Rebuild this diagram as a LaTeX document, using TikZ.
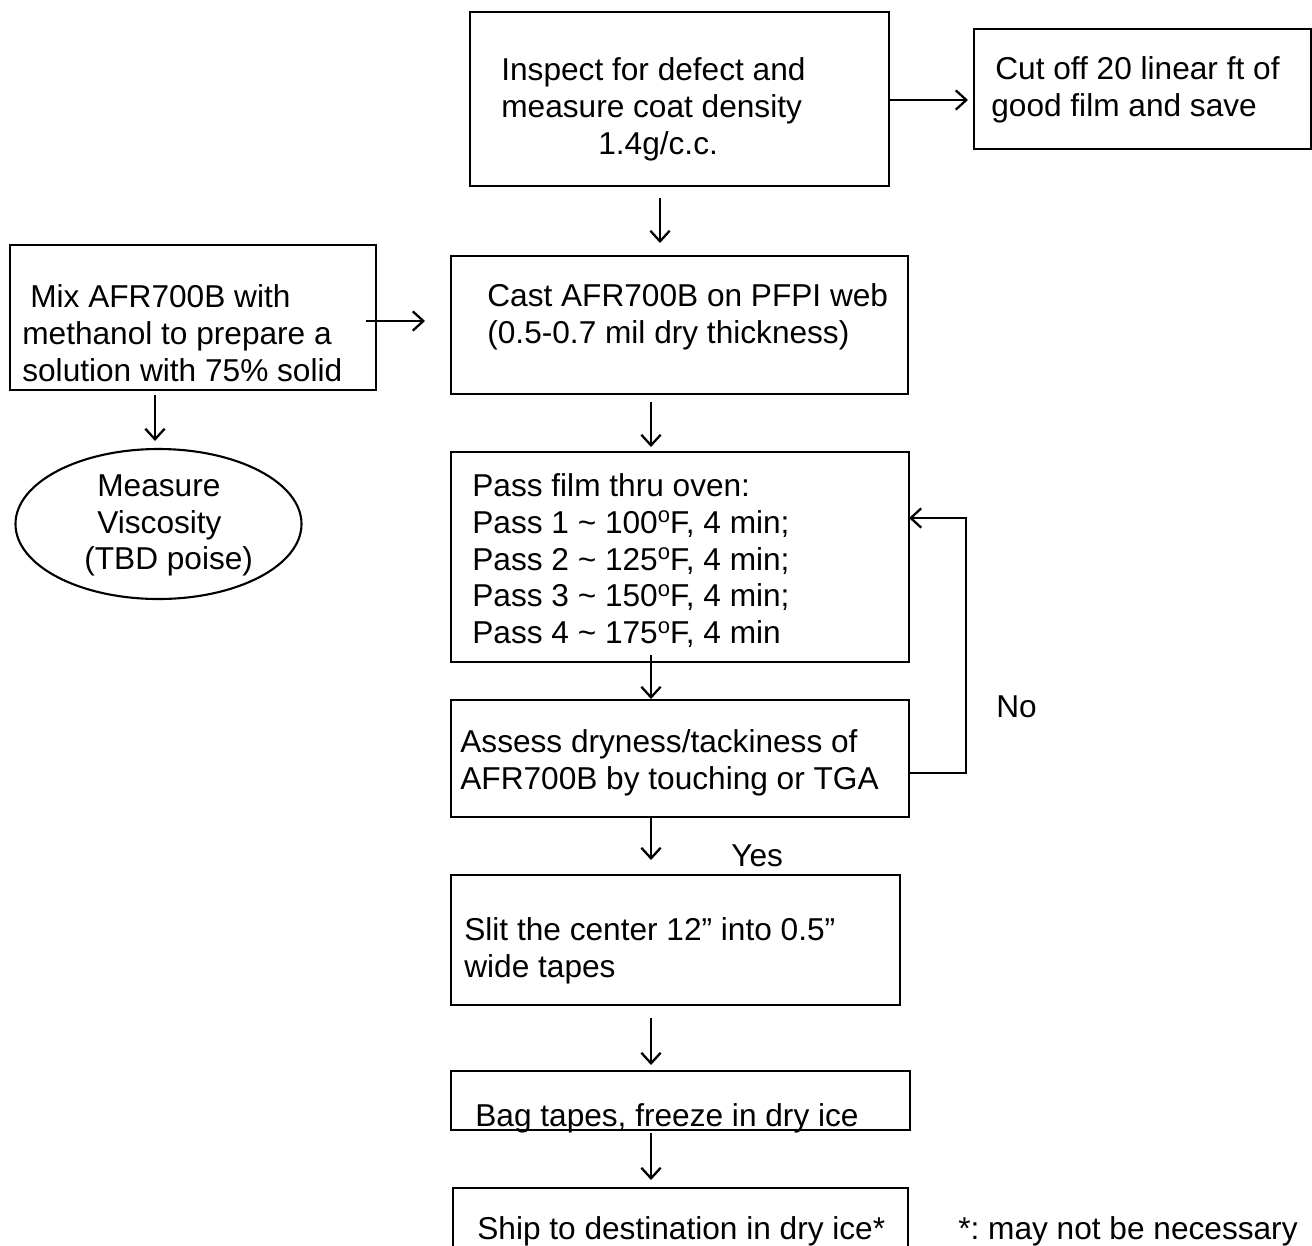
\documentclass[tikz,border=0pt]{standalone}
\usepackage{fontspec}
\setmainfont{Liberation Sans}
\usetikzlibrary{arrows.meta,shapes.geometric}
\newcommand\mybox[5]{\node[box, minimum width={(#4-#2)*0.02cm}, minimum height={(#5-#3)*0.02cm}] (#1) at ({(#2+#4)/2},{(#3+#5)/2}) {};}
\newcommand\dego{\raisebox{6pt}{\fontsize{12.5}{12.5}\selectfont o}}
\tikzset{
  box/.style={draw, line width=1.5pt, inner sep=0pt, outer sep=0pt},
  txt/.style={anchor=north west, align=left, inner sep=0pt, font=\fontsize{18}{21}\selectfont, execute at begin node=\rule{0pt}{14pt}},
  arr/.style={line width=1.3pt, -{Straight Barb[length=6pt,width=11pt,line width=1.3pt]}},
}
\begin{document}
\begin{tikzpicture}[x=0.02cm, y=-0.02cm]
\useasboundingbox (0,0) rectangle (1312,1245);
% boxes
\mybox{inspect}{470}{12}{889}{186}
\mybox{cut}{974}{29}{1311}{149}
\mybox{mix}{10}{245}{376}{390}
\mybox{cast}{451}{256}{908}{394}
\mybox{pass}{451}{452}{909}{662}
\mybox{assess}{451}{700}{909}{817}
\mybox{slit}{451}{875}{900}{1005}
\mybox{bag}{451}{1071}{910}{1130}
\mybox{ship}{453}{1188}{908}{1247}
\node[draw, ellipse, line width=1.2pt, inner sep=0pt, minimum width={286*0.02cm}, minimum height={150*0.02cm}] (visc) at (158.5,524) {};
% texts
\node[txt] (inspect-t) at (501,57) {Inspect for defect and\\measure coat density\\\hspace*{1.94cm}1.4g/c.c.};
\node[txt] (cut-t) at (991,56) {\hspace*{0.08cm}Cut off 20 linear ft of\\good film and save};
\node[txt] (mix-t) at (22,284) {\hspace*{0.16cm}Mix AFR700B with\\methanol to prepare a\\solution with 75\% solid};
\node[txt] (visc-t) at (84,474) {\hspace*{0.26cm}Measure\\\hspace*{0.26cm}Viscosity\\(TBD poise)};
\node[txt] (cast-t) at (487,283) {Cast AFR700B on PFPI web\\(0.5-0.7 mil dry thickness)};
\node[txt] (pass-t) at (472,473) {Pass film thru oven:\\Pass 1 \textasciitilde{} 100\dego F, 4 min;\\Pass 2 \textasciitilde{} 125\dego F, 4 min;\\Pass 3 \textasciitilde{} 150\dego F, 4 min;\\Pass 4 \textasciitilde{} 175\dego F, 4 min};
\node[txt] (assess-t) at (460,729) {Assess dryness/tackiness of\\AFR700B by touching or TGA};
\node[txt] (slit-t) at (464,917) {Slit the center 12'' into 0.5''\\wide tapes};
\node[txt] (bag-t) at (475,1102) {Bag tapes, freeze in dry ice};
\node[txt] (ship-t) at (477,1215) {Ship to destination in dry ice*};
\node[txt] (note) at (958,1215) {*:\ may not be necessary};
\node[txt] (yes) at (731,842) {Yes};
\node[txt] (no) at (996,693) {No};
% connectors
\draw[arr, shorten >=0.12cm] (inspect.east |- 0,100) -- (cut.west |- 0,100);
\draw[arr, shorten <=0.24cm, shorten >=0.26cm] (inspect.south -| 660,0) -- (cast.north -| 660,0);
\draw[arr, shorten <=-0.2cm, shorten >=0.52cm] (mix.east |- 0,321) -- (cast.west |- 0,321);
\draw[arr, shorten <=0.1cm, shorten >=0.14cm] (mix.south -| 155,0) -- (visc.north -| 155,0);
\draw[arr, shorten <=0.16cm, shorten >=0.1cm] (cast.south -| 651,0) -- (pass.north -| 651,0);
\draw[arr, shorten <=-0.14cm, shorten >=0.02cm] (pass.south -| 651,0) -- (assess.north -| 651,0);
\draw[arr, shorten >=0.3cm] (assess.south -| 651,0) -- (slit.north -| 651,0);
\draw[arr, shorten <=0.26cm, shorten >=0.12cm] (slit.south -| 651,0) -- (bag.north -| 651,0);
\draw[arr, shorten <=0.06cm, shorten >=0.16cm] (bag.south -| 651,0) -- (ship.north -| 651,0);
\coordinate (fb1) at (966,773);
\coordinate (fb2) at (966,518);
\draw[arr] (assess.east |- fb1) -- (fb1) -- (fb2) -- (pass.east |- fb2);
\end{tikzpicture}
\end{document}
